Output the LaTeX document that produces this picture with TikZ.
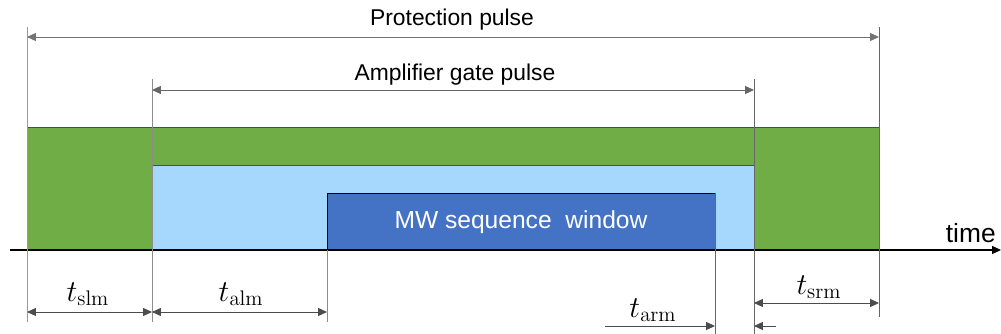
\documentclass[tikz,border=0pt]{standalone}
\usepackage[no-math]{fontspec}
\setmainfont{Liberation Sans}
\usetikzlibrary{arrows.meta}

\definecolor{protgreen}{HTML}{70AD47}
\definecolor{gateblue}{HTML}{A6D8FD}
\definecolor{mwblue}{HTML}{4472C4}
\definecolor{edgeblue}{HTML}{3A4E6E}

\tikzset{
  guide/.style={draw=black!60, line width=0.5pt},
  dim/.style={draw=black!70, line width=0.5pt, {Triangle[length=5pt,width=4.5pt]}-{Triangle[length=5pt,width=4.5pt]}},
  tip/.style={draw=black!70, line width=0.5pt, -{Triangle[length=5pt,width=4.5pt]}},
  lbl/.style={font=\fontsize{13}{15}\selectfont, inner sep=0pt},
  tlbl/.style={font=\fontsize{15}{17}\selectfont, inner sep=0pt},
  mlbl/.style={font=\fontsize{17.5}{20}\selectfont, inner sep=0pt}
}

\begin{document}
\begin{tikzpicture}[x=0.02cm, y=-0.02cm]
\def\xa{27};  % protection start
\def\xb{152}; % gate start
\def\xc{327}; % MW start
\def\xd{715}; % MW end
\def\xe{754}; % gate end
\def\xf{879}; % protection end
\def\yax{250};

\useasboundingbox (0,0) rectangle (1001,334);

% pulses
\filldraw[fill=protgreen, draw=edgeblue] (\xa, 127) rectangle (\xf, \yax);
\filldraw[fill=gateblue, draw=edgeblue] (\xb, 165) rectangle (\xe, \yax);
\filldraw[fill=mwblue, draw=black] (\xc, 193) rectangle (\xd, \yax);
\node[lbl, text=white, font=\fontsize{14}{16}\selectfont] (mw) at (521, 222) {MW sequence\ \ window};

% time axis
\coordinate (t0) at (10, \yax);
\coordinate (t1) at (1001, \yax);
\draw[tip, draw=black, line width=0.6pt] (t0) -- (t1);
\node[tlbl, anchor=base east] (time) at (996, 243) {time};

% guide lines
\coordinate (pa) at (\xa, 27);  \coordinate (pa') at (\xa, 322);
\coordinate (ga) at (\xb, 79);  \coordinate (ga') at (\xb, 322);
\coordinate (ma) at (\xc, \yax); \coordinate (ma') at (\xc, 322);
\coordinate (mb) at (\xd, 193); \coordinate (mb') at (\xd, 334);
\coordinate (gb) at (\xe, 79);  \coordinate (gb') at (\xe, 334);
\coordinate (pb) at (\xf, 27);  \coordinate (pb') at (\xf, 317);
\draw[guide, draw=black!40] (pa) -- (pa');
\draw[guide, draw=black!45] (ga) -- (ga');
\draw[guide, draw=black!45] (ma) -- (ma');
\draw[guide] (mb) -- (mb');
\draw[guide] (gb) -- (gb');
\draw[guide] (pb) -- (pb');

% pulse widths
\coordinate (p1) at (\xa, 37);  \coordinate (p2) at (\xf, 37);
\coordinate (g1) at (\xb, 90);  \coordinate (g2) at (\xe, 90);
\draw[dim, draw=black!55] (p1) -- (p2);
\draw[dim, draw=black!60] (g1) -- (g2);
\node[lbl] (prot) at (452, 20) {Protection pulse};
\node[lbl] (gate) at (455, 75) {Amplifier gate pulse};

% margins
\coordinate (s1) at (\xa, 312); \coordinate (s2) at (\xb, 312); \coordinate (s3) at (\xc, 312);
\draw[dim] (s1) -- (s2);
\draw[dim] (s2) -- (s3);
\node[mlbl] (tslm) at (88, 294) {$t_{\mathrm{slm}}$};
\node[mlbl] (talm) at (241, 294) {$t_{\mathrm{alm}}$};

\coordinate (r1) at (\xe, 303); \coordinate (r2) at (\xf, 303);
\draw[dim] (r1) -- (r2);
\node[mlbl] (tsrm) at (819, 287) {$t_{\mathrm{srm}}$};

\coordinate (a0) at (605, 326); \coordinate (a1) at (\xd, 326);
\coordinate (a2) at (\xe, 326); \coordinate (a3) at (776, 326);
\draw[tip] (a0) -- (a1);
\draw[tip] (a3) -- (a2);
\node[mlbl] (tarm) at (653, 310) {$t_{\mathrm{arm}}$};

\end{tikzpicture}
\end{document}
